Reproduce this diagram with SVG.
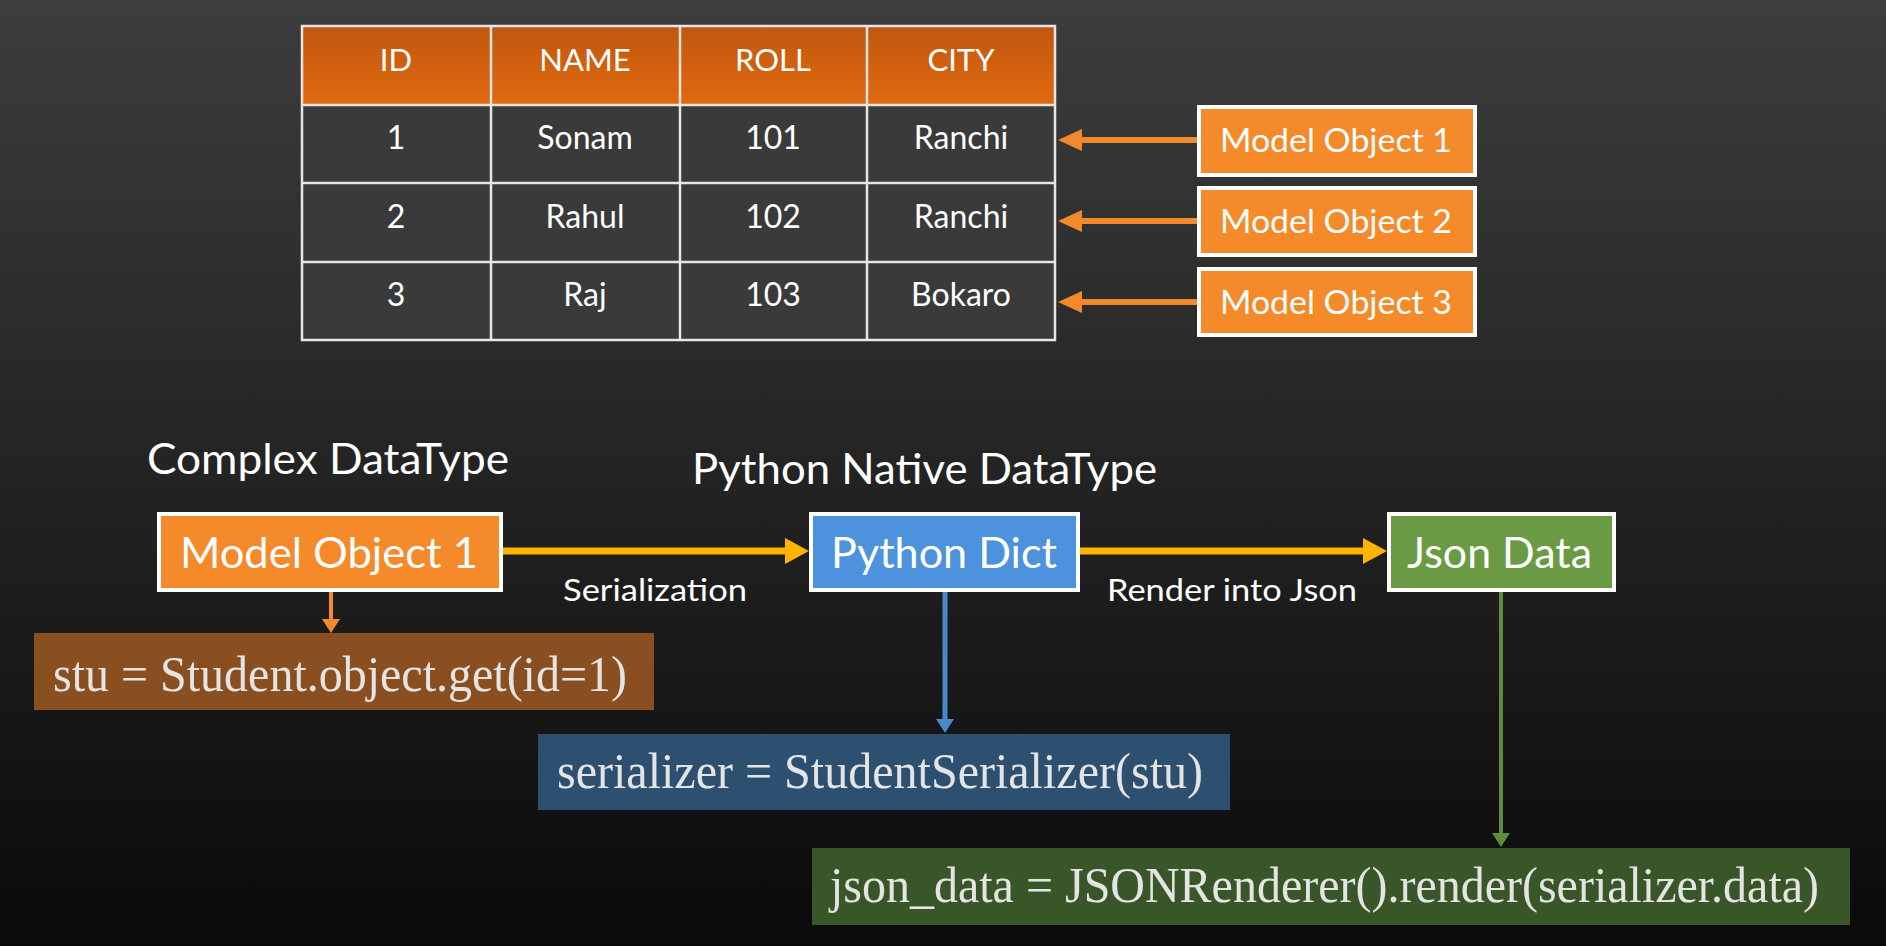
<svg xmlns="http://www.w3.org/2000/svg" width="1886" height="946" viewBox="0 0 1886 946">
<defs>
<linearGradient id="bg" x1="0" y1="0" x2="0" y2="1">
<stop offset="0" stop-color="#3d3d3d"/>
<stop offset="0.45" stop-color="#262626"/>
<stop offset="1" stop-color="#0a0a0a"/>
</linearGradient>
<linearGradient id="hdr" x1="0" y1="0" x2="0" y2="1">
<stop offset="0" stop-color="#c0570f"/>
<stop offset="1" stop-color="#e2690f"/>
</linearGradient>
<marker id="hOr" markerUnits="userSpaceOnUse" markerWidth="24" markerHeight="22" refX="0" refY="11" orient="auto"><path d="M0,0 L24,11 L0,22 z" fill="#f28a2c"/></marker>
<marker id="hYe" markerUnits="userSpaceOnUse" markerWidth="24" markerHeight="26" refX="0" refY="13" orient="auto"><path d="M0,0 L24,13 L0,26 z" fill="#ffb400"/></marker>
<marker id="hOrS" markerUnits="userSpaceOnUse" markerWidth="14" markerHeight="18" refX="0" refY="9" orient="auto"><path d="M0,0 L14,9 L0,18 z" fill="#f28a2c"/></marker>
<marker id="hBl" markerUnits="userSpaceOnUse" markerWidth="14" markerHeight="18" refX="0" refY="9" orient="auto"><path d="M0,0 L14,9 L0,18 z" fill="#4a88cc"/></marker>
<marker id="hGr" markerUnits="userSpaceOnUse" markerWidth="14" markerHeight="18" refX="0" refY="9" orient="auto"><path d="M0,0 L14,9 L0,18 z" fill="#5e8c3c"/></marker>
</defs>
<style>
.sans{font-family:Lato,"Open Sans","Liberation Sans",sans-serif;fill:#ffffff}
.cell{font-size:32px;text-anchor:middle}
.head{font-size:31px;text-anchor:middle}
.code{font-family:"Liberation Serif","Times New Roman",serif;fill:#e4e4e4;font-size:50px}
.grid{stroke:#e6e6e6;stroke-width:2.5;fill:none}
.box{stroke:#ffffff;stroke-width:4}
.orangeBox{fill:#f58a2b}
</style>
<rect x="0" y="0" width="1886" height="946" fill="url(#bg)"/>

<g id="table">
<rect x="302" y="26" width="753" height="79" fill="url(#hdr)"/>
<rect x="302" y="105" width="753" height="235" fill="#3a3a3a"/>
<rect class="grid" x="302" y="26" width="753" height="314"/>
<line class="grid" x1="491" y1="26" x2="491" y2="340"/>
<line class="grid" x1="680" y1="26" x2="680" y2="340"/>
<line class="grid" x1="867" y1="26" x2="867" y2="340"/>
<line class="grid" x1="302" y1="105" x2="1055" y2="105"/>
<line class="grid" x1="302" y1="183" x2="1055" y2="183"/>
<line class="grid" x1="302" y1="262" x2="1055" y2="262"/>
<text class="sans head" x="396" y="71">ID</text>
<text class="sans head" x="585" y="71">NAME</text>
<text class="sans head" x="773" y="71">ROLL</text>
<text class="sans head" x="961" y="71">CITY</text>
<text class="sans cell" x="396" y="149">1</text>
<text class="sans cell" x="585" y="149">Sonam</text>
<text class="sans cell" x="773" y="149">101</text>
<text class="sans cell" x="961" y="149">Ranchi</text>
<text class="sans cell" x="396" y="228">2</text>
<text class="sans cell" x="585" y="228">Rahul</text>
<text class="sans cell" x="773" y="228">102</text>
<text class="sans cell" x="961" y="228">Ranchi</text>
<text class="sans cell" x="396" y="306">3</text>
<text class="sans cell" x="585" y="306">Raj</text>
<text class="sans cell" x="773" y="306">103</text>
<text class="sans cell" x="961" y="306">Bokaro</text>
</g>

<g id="model-object-1-top">
<rect class="box orangeBox" x="1199" y="107" width="276" height="68"/>
<text class="sans" x="1220" y="152" font-size="32" textLength="232" lengthAdjust="spacingAndGlyphs">Model Object 1</text>
</g>
<g id="model-object-2-top">
<rect class="box orangeBox" x="1199" y="188" width="276" height="67"/>
<text class="sans" x="1220" y="233" font-size="32" textLength="232" lengthAdjust="spacingAndGlyphs">Model Object 2</text>
</g>
<g id="model-object-3-top">
<rect class="box orangeBox" x="1199" y="269" width="276" height="66"/>
<text class="sans" x="1220" y="314" font-size="32" textLength="232" lengthAdjust="spacingAndGlyphs">Model Object 3</text>
</g>

<g id="heading-complex">
<text class="sans" x="147" y="474" font-size="42" textLength="362" lengthAdjust="spacingAndGlyphs">Complex DataType</text>
</g>
<g id="heading-native">
<text class="sans" x="692" y="484" font-size="42" textLength="465" lengthAdjust="spacingAndGlyphs">Python Native DataType</text>
</g>

<g id="model-object-1">
<rect class="box orangeBox" x="159" y="514" width="342" height="76"/>
<text class="sans" x="180" y="568" font-size="43" textLength="298" lengthAdjust="spacingAndGlyphs">Model Object 1</text>
</g>
<g id="python-dict">
<rect class="box" x="811" y="514" width="267" height="76" fill="#4d92dc"/>
<text class="sans" x="831" y="568" font-size="43" textLength="226" lengthAdjust="spacingAndGlyphs">Python Dict</text>
</g>
<g id="json-data">
<rect class="box" x="1389" y="514" width="225" height="76" fill="#6a9a44"/>
<text class="sans" x="1407" y="568" font-size="43" textLength="185" lengthAdjust="spacingAndGlyphs">Json Data</text>
</g>

<g id="stu-code">
<rect x="34" y="633" width="620" height="77" fill="#8a4f20"/>
<text class="code" x="53" y="691" textLength="574" lengthAdjust="spacingAndGlyphs">stu = Student.object.get(id=1)</text>
</g>
<g id="serializer-code">
<rect x="538" y="734" width="692" height="76" fill="#2d4f70"/>
<text class="code" x="557" y="788" textLength="646" lengthAdjust="spacingAndGlyphs">serializer = StudentSerializer(stu)</text>
</g>
<g id="json-code">
<rect x="812" y="848" width="1038" height="77" fill="#385628"/>
<text class="code" x="830" y="902" textLength="989" lengthAdjust="spacingAndGlyphs">json_data = JSONRenderer().render(serializer.data)</text>
</g>

<g id="connectors">
<line x1="1197" y1="140" x2="1082" y2="140" stroke="#f28a2c" stroke-width="6" marker-end="url(#hOr)"/>
<line x1="1197" y1="221" x2="1082" y2="221" stroke="#f28a2c" stroke-width="6" marker-end="url(#hOr)"/>
<line x1="1197" y1="302" x2="1082" y2="302" stroke="#f28a2c" stroke-width="6" marker-end="url(#hOr)"/>
<line x1="503" y1="551" x2="785" y2="551" stroke="#ffb400" stroke-width="7" marker-end="url(#hYe)"/>
<line x1="1080" y1="551" x2="1363" y2="551" stroke="#ffb400" stroke-width="7" marker-end="url(#hYe)"/>
<line x1="331" y1="592" x2="331" y2="619" stroke="#f28a2c" stroke-width="4" marker-end="url(#hOrS)"/>
<line x1="945" y1="592" x2="945" y2="719" stroke="#4a88cc" stroke-width="5" marker-end="url(#hBl)"/>
<line x1="1501" y1="592" x2="1501" y2="833" stroke="#5e8c3c" stroke-width="4" marker-end="url(#hGr)"/>
<text class="sans" x="563" y="601" font-size="30" textLength="184" lengthAdjust="spacingAndGlyphs">Serialization</text>
<text class="sans" x="1107" y="601" font-size="30" textLength="250" lengthAdjust="spacingAndGlyphs">Render into Json</text>
</g>
</svg>
